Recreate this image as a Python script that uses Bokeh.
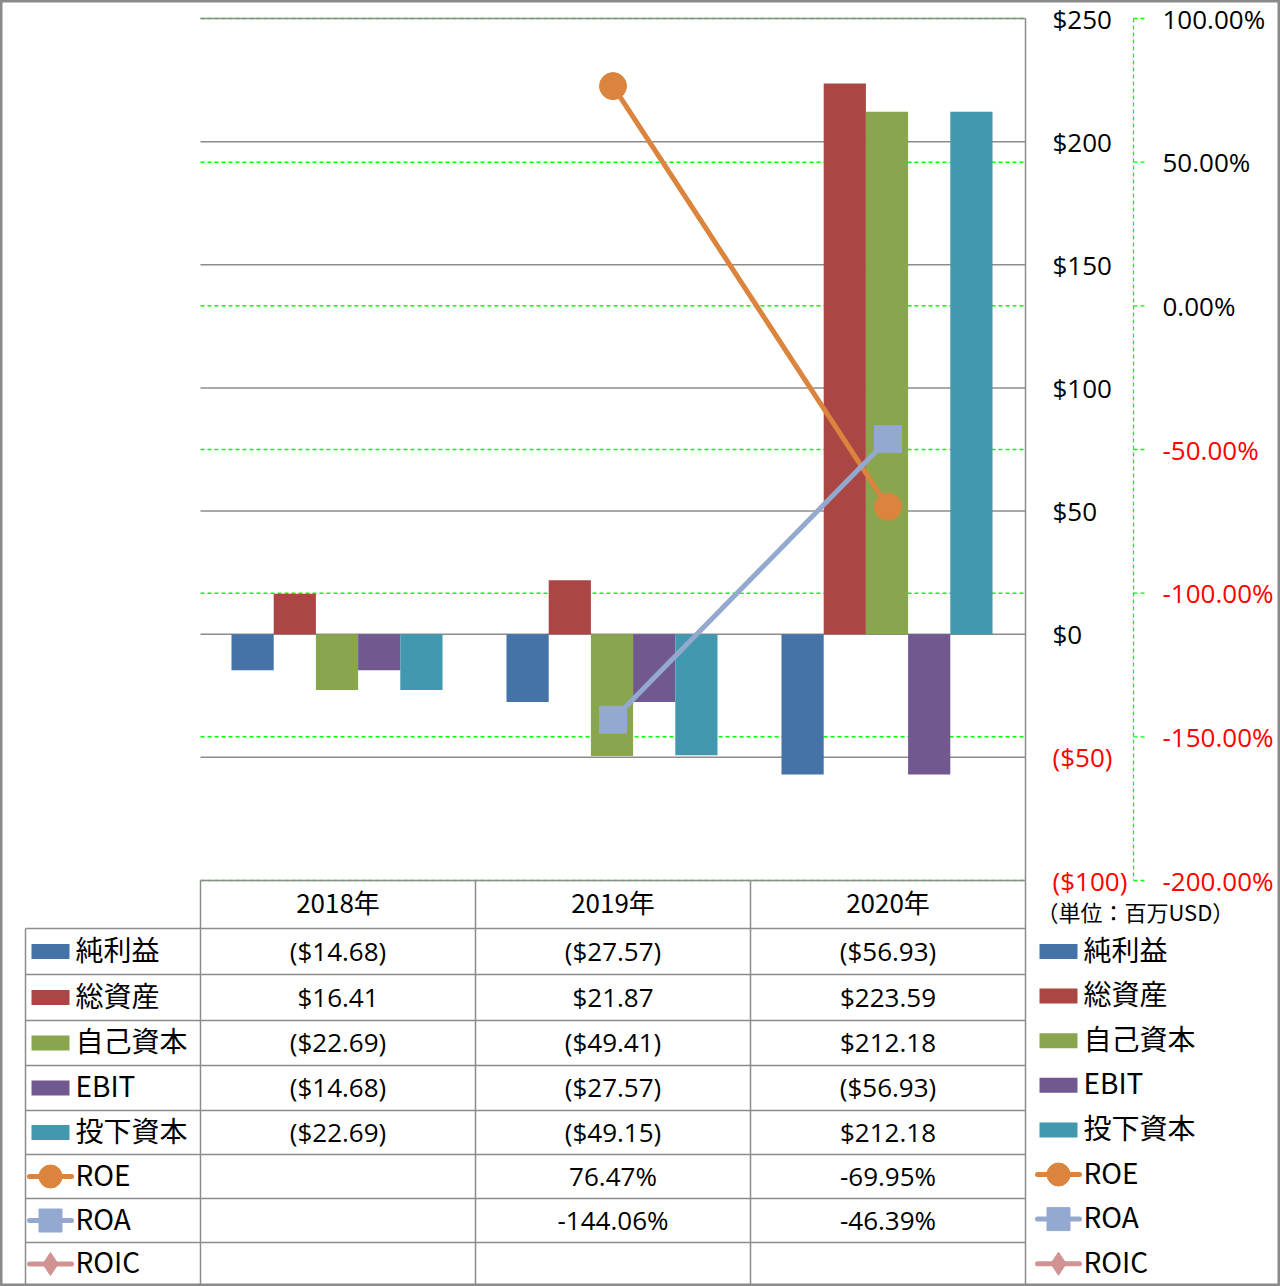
import numpy as np
from bokeh.plotting import figure
from bokeh.models import Range1d, ColumnDataSource
from bokeh.core.properties import value
from bokeh.embed import file_html
from bokeh.resources import INLINE

# ---------------- data ----------------
years = ["2018年", "2019年", "2020年"]
bar_names = ["純利益", "総資産", "自己資本", "EBIT", "投下資本"]
net_income = [-14.68, -27.57, -56.93]
total_assets = [16.41, 21.87, 223.59]
equity = [-22.69, -49.41, 212.18]
ebit = [-14.68, -27.57, -56.93]
invested_capital = [-22.69, -49.15, 212.18]
line_names = ["ROE", "ROA", "ROIC"]
roe = [None, 76.47, -69.95]
roa = [None, -144.06, -46.39]
roic = [None, None, None]
usd_ticks = [250, 200, 150, 100, 50, 0, -50, -100]
pct_ticks = [100, 50, 0, -50, -100, -150, -200]
unit_label = "（単位：百万USD）"

bar_series = [net_income, total_assets, equity, ebit, invested_capital]
line_series = [roe, roa, roic]

# ---------------- styles / layout ----------------
bar_colors = ["#4572A7", "#AA4643", "#89A54E", "#71588F", "#4198AF"]
line_colors = ["#DB843D", "#93A9CF", "#D19392"]
line_markers = ["circle", "square", "diamond"]
GRID = "#8c8c8c"
GREEN = "#00ff00"
RED = "#ff0000"
NUMFONT = value("Open Sans")
JPFONT = value("Noto Sans CJK JP")

W, H = 1280, 1286
PL, PR, PT, PB = 200, 1025, 18, 880
NCAT = len(years)
CAT_W = (PR - PL) / NCAT
# table row edges (screen px from top) - layout only
ROW_EDGES = [928, 974, 1020, 1065, 1110, 1154, 1198, 1242, 1285]
RIGHT_LEG_TOP, RIGHT_LEG_STEP = 951, 44.6
JP_NUDGE = -3  # CJK font sits a little low with middle baseline

USD_MIN, USD_MAX = min(usd_ticks), max(usd_ticks)
PCT_MIN, PCT_MAX = min(pct_ticks), max(pct_ticks)
usd_pp = (PB - PT) / (USD_MAX - USD_MIN)
pct_pp = (PB - PT) / (PCT_MAX - PCT_MIN)

x_lo = -0.5 - PL / CAT_W
x_hi = NCAT - 0.5 + (W - PR) / CAT_W


def px2x(px):
    return x_lo + px / CAT_W


p = figure(width=W, height=H, title=None, toolbar_location=None,
           output_backend="svg",
           x_range=Range1d(x_lo, x_hi),
           y_range=Range1d(USD_MIN - (H - PB) / usd_pp, USD_MAX + PT / usd_pp),
           x_axis_location=None, y_axis_location=None, min_border=0)
p.extra_y_ranges = {
    "pct": Range1d(PCT_MIN - (H - PB) / pct_pp, PCT_MAX + PT / pct_pp),
    "tbl": Range1d(H, 0),
}
p.xgrid.visible = False
p.ygrid.visible = False
p.background_fill_color = "white"
p.border_fill_color = "white"
p.outline_line_color = "#8a8a8a"
p.outline_line_width = 4

x_left_edge = -0.5
x_right_edge = NCAT - 0.5

# secondary (percent) gridlines: green dashed
p.segment(x0=[x_left_edge] * len(pct_ticks), x1=[x_right_edge] * len(pct_ticks),
          y0=pct_ticks, y1=pct_ticks, y_range_name="pct",
          line_color=GREEN, line_width=1.5, line_dash="4 3")
# primary gridlines: grey solid
p.segment(x0=[x_left_edge] * len(usd_ticks), x1=[x_right_edge] * len(usd_ticks),
          y0=usd_ticks, y1=usd_ticks, line_color=GRID, line_width=1.5)

# bars
bw = 42.2 / CAT_W
shift = -1.0 / CAT_W
xs = np.arange(NCAT)
nb = len(bar_series)
for k, (vals, col) in enumerate(zip(bar_series, bar_colors)):
    p.vbar(x=xs + shift + (k - (nb - 1) / 2) * bw, top=vals, bottom=0, width=bw,
           fill_color=col, line_color=None)


# lines
def arr(v):
    return np.array([np.nan if a is None else a for a in v], dtype=float)


for vals, col, mk in zip(line_series, line_colors, line_markers):
    a = arr(vals)
    p.line(x=xs, y=a, y_range_name="pct", line_color=col, line_width=5)
    p.scatter(x=xs, y=a, y_range_name="pct", marker=mk, size=27,
              fill_color=col, line_color=col)

# primary axis line (right side of plot)
p.segment(x0=[x_right_edge], x1=[x_right_edge], y0=[USD_MAX], y1=[USD_MIN],
          line_color=GRID, line_width=1.5)

# percent axis: green dashed vertical line + tick stubs
ax_x = px2x(1133)
tick_x1 = px2x(1144)
p.segment(x0=[ax_x], x1=[ax_x], y0=[PCT_MAX], y1=[PCT_MIN], y_range_name="pct",
          line_color=GREEN, line_width=1.3, line_dash="4 3")
p.segment(x0=[ax_x] * len(pct_ticks), x1=[tick_x1] * len(pct_ticks),
          y0=pct_ticks, y1=pct_ticks, y_range_name="pct",
          line_color=GREEN, line_width=1.3, line_dash="4 3")


# axis labels
def usd_tick_label(v):
    return f"(${abs(v)})" if v < 0 else f"${v}"


usd_src = ColumnDataSource(dict(
    x=[px2x(1052)] * len(usd_ticks), y=usd_ticks,
    text=[usd_tick_label(v) for v in usd_ticks],
    color=[RED if v < 0 else "black" for v in usd_ticks]))
p.text(x="x", y="y", text="text", text_color="color", source=usd_src,
       text_font=NUMFONT, text_font_size="26px",
       text_align="left", text_baseline="middle")

pct_src = ColumnDataSource(dict(
    x=[px2x(1162)] * len(pct_ticks), y=pct_ticks,
    text=[f"{v:.2f}%" for v in pct_ticks],
    color=[RED if v < 0 else "black" for v in pct_ticks]))
p.text(x="x", y="y", text="text", text_color="color", source=pct_src,
       y_range_name="pct", text_font=NUMFONT, text_font_size="26px",
       text_align="left", text_baseline="middle")

# ---------------- data table ----------------
col_edges = [x_left_edge + i for i in range(NCAT + 1)]
tb = ROW_EDGES[-1]
# vertical lines
p.segment(x0=col_edges, x1=col_edges, y0=[PB] * len(col_edges),
          y1=[tb] * len(col_edges), y_range_name="tbl",
          line_color=GRID, line_width=1.5)
p.segment(x0=[px2x(25)], x1=[px2x(25)], y0=[ROW_EDGES[0]], y1=[tb], y_range_name="tbl",
          line_color=GRID, line_width=1.5)
# horizontal lines
p.segment(x0=[px2x(25)] * len(ROW_EDGES), x1=[x_right_edge] * len(ROW_EDGES),
          y0=ROW_EDGES, y1=ROW_EDGES, y_range_name="tbl", line_color=GRID, line_width=1.5)

# header
p.text(x=list(xs), y=[(PB + ROW_EDGES[0]) / 2 + JP_NUDGE] * NCAT, text=years,
       y_range_name="tbl",
       text_font=JPFONT, text_font_size="26px", text_color="black",
       text_align="center", text_baseline="middle")


def fmt_usd(v):
    return f"(${abs(v):.2f})" if v < 0 else f"${v:.2f}"


def fmt_pct(v):
    return "" if v is None else f"{v:.2f}%"


row_c = [(ROW_EDGES[r] + ROW_EDGES[r + 1]) / 2 for r in range(len(ROW_EDGES) - 1)]

cell_x, cell_y, cell_t = [], [], []
for r, vals in enumerate(bar_series):
    for i, v in enumerate(vals):
        cell_x.append(i); cell_y.append(row_c[r] - 1); cell_t.append(fmt_usd(v))
for r, vals in enumerate(line_series):
    for i, v in enumerate(vals):
        cell_x.append(i); cell_y.append(row_c[len(bar_series) + r] - 1); cell_t.append(fmt_pct(v))
p.text(x=cell_x, y=cell_y, text=cell_t, y_range_name="tbl",
       text_font=NUMFONT, text_font_size="26px", text_color="black",
       text_align="center", text_baseline="middle")

# legend keys (in table and at right)
names = bar_names + line_names
NROWS = len(names)
right_c = [RIGHT_LEG_TOP + RIGHT_LEG_STEP * r for r in range(NROWS)]
for key_px, label_px, centers in [(50, 75, row_c), (1058, 1083, right_c)]:
    kx = px2x(key_px)
    for r in range(len(bar_names)):
        p.rect(x=[kx], y=[centers[r]], width=38, height=15, width_units="screen",
               height_units="screen", y_range_name="tbl",
               fill_color=bar_colors[r], line_color=None)
    for j in range(len(line_names)):
        r = len(bar_names) + j
        p.segment(x0=[px2x(key_px - 21)], x1=[px2x(key_px + 21)], y0=[centers[r]],
                  y1=[centers[r]], y_range_name="tbl", line_color=line_colors[j],
                  line_width=5, line_cap="round")
        p.scatter(x=[kx], y=[centers[r]], y_range_name="tbl", marker=line_markers[j],
                  size=23, fill_color=line_colors[j], line_color=line_colors[j])
    p.text(x=[px2x(label_px)] * NROWS, y=[c + JP_NUDGE for c in centers], text=names,
           y_range_name="tbl",
           text_font=JPFONT, text_font_size="28px", text_color="black",
           text_align="left", text_baseline="middle")

p.text(x=[px2x(1036)], y=[913 + JP_NUDGE], text=[unit_label], y_range_name="tbl",
       text_font=JPFONT, text_font_size="22px", text_color="black",
       text_align="left", text_baseline="middle")

open("out.html", "w").write(file_html(p, INLINE))
